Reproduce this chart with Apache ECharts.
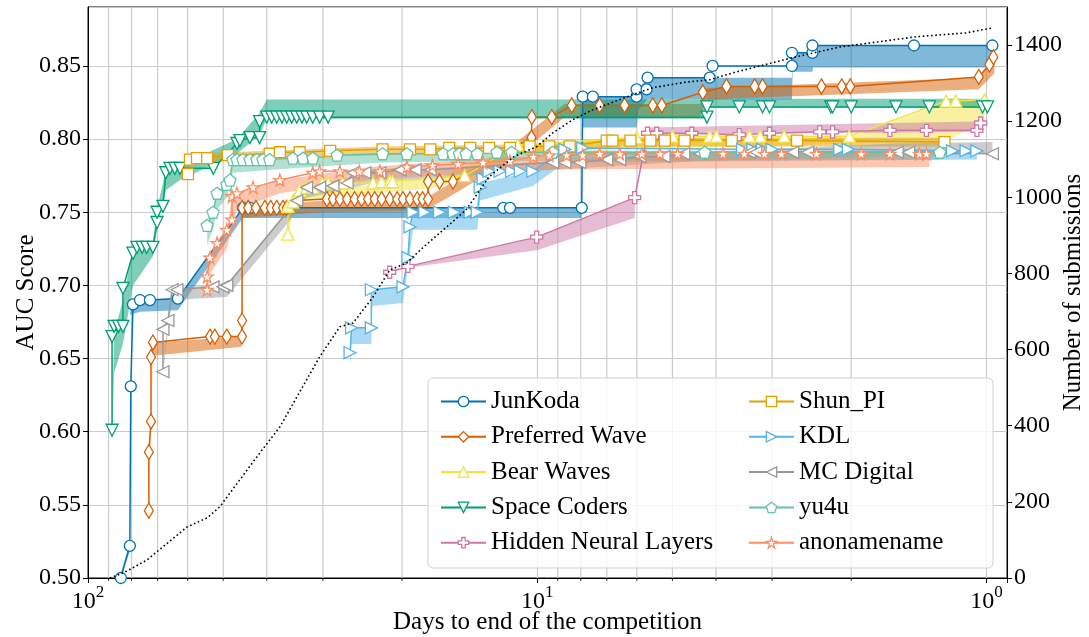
<!DOCTYPE html>
<html>
<head>
<meta charset="utf-8">
<script src="https://cdn.jsdelivr.net/npm/echarts@6/dist/echarts.min.js"></script>
<style>
html, body { margin: 0; padding: 0; background: #fff; }
#chart { width: 1089px; height: 637px; }
</style>
</head>
<body>
<div id="chart"></div>
<script>
// best score so far, per team (days to end, AUC)
const junKodaDays = [84.5, 80.7, 80.3, 79.4, 76.6, 72.8, 63.1, 45.2, 43.6, 11.9, 11.5, 7.96, 7.92, 7.52, 6.01, 6.01, 5.71, 5.68, 4.13, 4.07, 2.71, 2.71, 2.44, 2.44, 1.45, 0.97];
const junKodaAuc = [0.500, 0.522, 0.631, 0.687, 0.690, 0.690, 0.691, 0.753, 0.753, 0.753, 0.753, 0.753, 0.829, 0.829, 0.829, 0.834, 0.834, 0.842, 0.842, 0.850, 0.850, 0.859, 0.859, 0.864, 0.864, 0.864];
const junBandDays = [85.2, 80.7, 80.5, 76.6, 63.1, 45.2, 7.96, 7.92, 6.01, 5.95, 5.68, 2.71, 2.70, 2.44, 2.43, 0.97];
const junBandLo = [0.500, 0.518, 0.680, 0.682, 0.683, 0.746, 0.746, 0.808, 0.808, 0.820, 0.827, 0.827, 0.846, 0.846, 0.849, 0.849];
const junBandHi = [0.500, 0.524, 0.690, 0.690, 0.691, 0.753, 0.753, 0.829, 0.829, 0.834, 0.842, 0.842, 0.859, 0.859, 0.864, 0.864];

const pwDays = [73.2, 73.2, 72.4, 72.4, 71.7, 53.5, 52.2, 49.1, 45.4, 45.4, 45.4, 44.0, 42.3, 40.4, 39.2, 38.0, 36.8, 36.1, 34.5, 29.4, 28.5, 27.5, 26.5, 25.5, 24.6, 23.8, 23.0, 22.2, 21.3, 20.5, 19.9, 19.2, 18.5, 18.0, 17.5, 17.5, 16.5, 15.4, 10.3, 10.28, 9.28, 8.38, 7.26, 6.39, 5.53, 5.28, 4.28, 3.79, 3.28, 3.15, 2.33, 2.10, 2.01, 1.04, 0.985, 0.965];
const pwAuc = [0.546, 0.586, 0.607, 0.651, 0.661, 0.665, 0.665, 0.665, 0.665, 0.676, 0.753, 0.753, 0.753, 0.753, 0.753, 0.753, 0.753, 0.753, 0.758, 0.759, 0.759, 0.759, 0.759, 0.759, 0.759, 0.759, 0.759, 0.759, 0.759, 0.759, 0.759, 0.759, 0.759, 0.759, 0.759, 0.771, 0.771, 0.771, 0.801, 0.815, 0.815, 0.823, 0.823, 0.823, 0.823, 0.823, 0.832, 0.836, 0.836, 0.836, 0.836, 0.836, 0.836, 0.8425, 0.851, 0.856];
const pwBandDays = [73.2, 71.7, 45.5, 45.3, 30.0, 17.8, 15.4, 10.9, 8.7, 4.34, 4.2, 1.04, 0.96];
const pwBandLo = [0.545, 0.652, 0.658, 0.746, 0.750, 0.751, 0.762, 0.790, 0.815, 0.815, 0.827, 0.834, 0.845];
const pwBandHi = [0.547, 0.661, 0.665, 0.753, 0.758, 0.759, 0.771, 0.800, 0.824, 0.824, 0.835, 0.842, 0.857];

const bwDays = [35.9, 35.9, 35.0, 33.8, 32.6, 31.6, 30.1, 29.2, 27.1, 23.2, 22.2, 21.3, 21.0, 14.5, 11.05, 6.01, 5.0, 4.13, 3.99, 3.37, 3.19, 2.82, 2.02, 1.23, 1.17, 1.01];
const bwAuc = [0.735, 0.754, 0.757, 0.765, 0.767, 0.767, 0.770, 0.770, 0.770, 0.770, 0.771, 0.771, 0.771, 0.775, 0.796, 0.801, 0.802, 0.802, 0.802, 0.802, 0.802, 0.802, 0.802, 0.826, 0.826, 0.827];
const bwBandDays = [35.9, 35.0, 21.3, 16.5, 11.05, 6.01, 1.99, 1.23, 1.01];
const bwBandLo = [0.728, 0.757, 0.764, 0.767, 0.789, 0.793, 0.797, 0.799, 0.812];
const bwBandHi = [0.754, 0.763, 0.770, 0.774, 0.796, 0.801, 0.802, 0.825, 0.827];

const scDays = [88.4, 88.4, 87.5, 85.5, 83.6, 83.6, 79.4, 77.8, 75.8, 74.0, 71.7, 70.2, 70.2, 68.1, 67.1, 65.7, 64.1, 62.4, 52.6, 46.6, 45.9, 43.6, 41.5, 41.5, 40.0, 39.0, 38.0, 37.0, 36.1, 35.2, 34.3, 33.4, 32.6, 31.6, 30.5, 29.2, 4.19, 4.19, 3.55, 3.15, 3.04, 2.22, 2.20, 2.00, 1.59, 1.34, 1.02, 0.995];
const scAuc = [0.601, 0.665, 0.672, 0.672, 0.672, 0.698, 0.722, 0.726, 0.726, 0.726, 0.726, 0.743, 0.750, 0.754, 0.777, 0.780, 0.780, 0.780, 0.780, 0.797, 0.799, 0.801, 0.801, 0.812, 0.815, 0.815, 0.815, 0.815, 0.815, 0.815, 0.815, 0.815, 0.815, 0.815, 0.815, 0.815, 0.815, 0.822, 0.822, 0.822, 0.822, 0.822, 0.822, 0.822, 0.822, 0.822, 0.822, 0.822];
const scBandDays = [88.4, 87.5, 83.6, 79.4, 71.7, 70.2, 67.1, 62.4, 46.6, 41.5, 40.0, 4.19, 4.18, 0.99];
const scBandLo = [0.600, 0.640, 0.660, 0.700, 0.720, 0.738, 0.765, 0.772, 0.790, 0.803, 0.814, 0.814, 0.8215, 0.8215];
const scBandHi = [0.601, 0.667, 0.690, 0.725, 0.730, 0.752, 0.779, 0.782, 0.800, 0.818, 0.827, 0.827, 0.8275, 0.8275];

const hnlDays = [21.3, 19.4, 10.03, 6.07, 5.68, 5.42, 4.53, 3.55, 3.04, 2.35, 2.20, 1.64, 1.36, 1.05, 1.03];
const hnlAuc = [0.709, 0.713, 0.733, 0.760, 0.804, 0.804, 0.804, 0.803, 0.804, 0.805, 0.805, 0.806, 0.806, 0.806, 0.811];
const hnlBandDays = [21.3, 19.4, 10.03, 6.07, 6.06, 5.68, 1.05, 1.03];
const hnlBandLo = [0.709, 0.712, 0.724, 0.746, 0.758, 0.803, 0.805, 0.806];
const hnlBandHi = [0.709, 0.713, 0.733, 0.760, 0.760, 0.808, 0.812, 0.812];

const shunDays = [59.9, 59.3, 57.2, 54.3, 48.8, 39.4, 37.4, 33.8, 28.9, 22.1, 19.2, 17.3, 15.7, 14.1, 12.8, 11.5, 10.4, 9.4, 8.47, 7.0, 6.8, 6.2, 5.6, 5.2, 4.7, 3.69, 2.64, 1.24];
const shunAuc = [0.776, 0.786, 0.787, 0.787, 0.789, 0.790, 0.791, 0.791, 0.792, 0.793, 0.793, 0.793, 0.794, 0.794, 0.794, 0.794, 0.795, 0.795, 0.795, 0.799, 0.799, 0.799, 0.799, 0.799, 0.799, 0.799, 0.799, 0.798];
const shunBandDays = [59.9, 59.3, 49.1, 22.1, 8.47, 7.0, 1.24];
const shunBandLo = [0.772, 0.782, 0.786, 0.789, 0.791, 0.795, 0.795];
const shunBandHi = [0.777, 0.789, 0.791, 0.795, 0.797, 0.801, 0.801];

const kdlDays = [26.1, 25.9, 23.4, 23.4, 19.9, 19.4, 19.2, 18.9, 17.8, 16.5, 15.3, 14.1, 13.6, 13.4, 13.2, 12.8, 12.1, 11.4, 10.9, 10.23, 8.68, 7.92, 3.49, 3.31, 3.15, 3.0, 2.12, 2.03, 1.19, 1.11, 1.05];
const kdlAuc = [0.654, 0.671, 0.671, 0.697, 0.699, 0.719, 0.740, 0.750, 0.750, 0.750, 0.750, 0.750, 0.750, 0.767, 0.773, 0.778, 0.778, 0.778, 0.778, 0.778, 0.793, 0.794, 0.793, 0.793, 0.793, 0.793, 0.793, 0.793, 0.792, 0.792, 0.792];
const kdlBandDays = [26.1, 25.9, 23.4, 23.3, 19.9, 18.9, 13.6, 13.4, 10.23, 8.68, 1.05];
const kdlBandLo = [0.645, 0.660, 0.660, 0.686, 0.688, 0.738, 0.738, 0.758, 0.768, 0.784, 0.786];
const kdlBandHi = [0.654, 0.671, 0.671, 0.697, 0.699, 0.750, 0.750, 0.770, 0.778, 0.792, 0.792];

const mcDays = [68.1, 68.1, 66.4, 65.0, 63.4, 52.7, 50.1, 49.1, 34.3, 32.6, 30.5, 28.5, 26.5, 25.7, 24.2, 22.4, 20.2, 18.7, 17.3, 9.24, 8.68, 8.04, 7.0, 6.55, 5.91, 5.22, 4.72, 4.34, 3.37, 3.26, 2.70, 2.50, 1.58, 1.49, 0.97];
const mcAuc = [0.641, 0.670, 0.676, 0.697, 0.697, 0.699, 0.699, 0.700, 0.758, 0.767, 0.767, 0.768, 0.770, 0.777, 0.777, 0.777, 0.779, 0.779, 0.779, 0.784, 0.784, 0.784, 0.786, 0.786, 0.788, 0.788, 0.790, 0.790, 0.791, 0.791, 0.791, 0.791, 0.791, 0.791, 0.790];
const mcBandDays = [68.1, 66.4, 65.0, 49.1, 34.3, 32.6, 22.4, 9.24, 4.35, 1.6, 0.97];
const mcBandLo = [0.638, 0.668, 0.690, 0.692, 0.750, 0.760, 0.771, 0.779, 0.785, 0.788, 0.790];
const mcBandHi = [0.642, 0.676, 0.698, 0.701, 0.759, 0.768, 0.778, 0.785, 0.791, 0.797, 0.798];

const yu4uDays = [54.3, 52.7, 51.6, 49.1, 48.3, 47.6, 46.6, 45.2, 43.6, 42.1, 40.8, 39.4, 35.0, 33.2, 31.6, 27.9, 22.1, 19.5, 16.2, 15.4, 14.9, 14.4, 13.6, 12.3, 11.4, 9.24, 4.24, 1.27];
const yu4uAuc = [0.741, 0.750, 0.763, 0.769, 0.772, 0.786, 0.786, 0.786, 0.786, 0.786, 0.786, 0.786, 0.787, 0.787, 0.787, 0.789, 0.790, 0.790, 0.790, 0.790, 0.790, 0.790, 0.790, 0.791, 0.791, 0.791, 0.791, 0.791];
const yu4uBandDays = [54.3, 52.7, 51.6, 49.1, 47.6, 35.0, 22.1, 11.4, 1.27];
const yu4uBandLo = [0.728, 0.738, 0.752, 0.760, 0.777, 0.780, 0.784, 0.785, 0.786];
const yu4uBandHi = [0.741, 0.750, 0.763, 0.769, 0.786, 0.787, 0.790, 0.791, 0.791];

const anonDays = [54.3, 54.3, 53.5, 51.6, 49.1, 47.8, 47.8, 46.6, 42.9, 37.4, 31.6, 30.5, 27.5, 24.9, 22.4, 19.5, 17.1, 15.0, 13.2, 11.5, 10.2, 9.4, 8.6, 7.92, 7.26, 6.55, 5.85, 5.33, 4.87, 3.86, 3.46, 3.12, 2.86, 2.39, 1.90, 1.64, 1.41, 1.36];
const anonAuc = [0.697, 0.706, 0.719, 0.729, 0.738, 0.745, 0.761, 0.763, 0.767, 0.772, 0.777, 0.778, 0.778, 0.778, 0.778, 0.781, 0.782, 0.783, 0.784, 0.785, 0.788, 0.789, 0.789, 0.789, 0.790, 0.790, 0.790, 0.790, 0.790, 0.790, 0.790, 0.790, 0.790, 0.790, 0.790, 0.790, 0.790, 0.790];
const anonBandDays = [54.3, 53.5, 49.1, 47.8, 46.6, 37.4, 23.6, 11.1, 1.34];
const anonBandLo = [0.690, 0.708, 0.725, 0.740, 0.752, 0.763, 0.772, 0.779, 0.781];
const anonBandHi = [0.697, 0.719, 0.738, 0.760, 0.763, 0.772, 0.781, 0.788, 0.788];

// total submissions (right axis)
const subDays = [89.4, 83.6, 74.0, 60.2, 54.3, 50.9, 42.1, 37.4, 30.5, 27.5, 25.7, 23.2, 21.3, 19.5, 18.0, 14.4, 12.8, 11.3, 10.03, 9.24, 8.33, 7.52, 6.32, 5.53, 4.65, 4.13, 3.67, 2.70, 2.12, 1.43, 1.11, 0.97];
const subCount = [0, 13, 47, 134, 158, 187, 318, 397, 581, 660, 670, 738, 809, 828, 867, 967, 1054, 1106, 1133, 1169, 1204, 1230, 1264, 1288, 1303, 1309, 1327, 1367, 1395, 1422, 1432, 1445];

// minor grid lines of the log axis
const minorDays = [2, 3, 4, 5, 6, 7, 8, 9, 20, 30, 40, 50, 60, 70, 80, 90];

const FONT = 'Liberation Serif';
const aucMin = 0.5, aucMax = 0.8903;

const teams = [
    {name: 'JunKoda', color: '#0072B2', days: junKodaDays, auc: junKodaAuc, bDays: junBandDays, bLo: junBandLo, bHi: junBandHi, symbol: 'circle', size: 11, rotate: 0},
    {name: 'Preferred Wave', color: '#D55E00', days: pwDays, auc: pwAuc, bDays: pwBandDays, bLo: pwBandLo, bHi: pwBandHi, symbol: 'diamond', size: [9, 15], rotate: 0},
    {name: 'Bear Waves', color: '#F0E442', days: bwDays, auc: bwAuc, bDays: bwBandDays, bLo: bwBandLo, bHi: bwBandHi, symbol: 'triangle', size: 12, rotate: 0},
    {name: 'Space Coders', color: '#009E73', days: scDays, auc: scAuc, bDays: scBandDays, bLo: scBandLo, bHi: scBandHi, symbol: 'triangle', size: 12, rotate: 180},
    {name: 'Hidden Neural Layers', color: '#CC79A7', days: hnlDays, auc: hnlAuc, bDays: hnlBandDays, bLo: hnlBandLo, bHi: hnlBandHi, symbol: 'path://M-1,-3L1,-3L1,-1L3,-1L3,1L1,1L1,3L-1,3L-1,1L-3,1L-3,-1L-1,-1Z', size: 12, rotate: 0},
    {name: 'Shun_PI', color: '#E69F00', days: shunDays, auc: shunAuc, bDays: shunBandDays, bLo: shunBandLo, bHi: shunBandHi, symbol: 'rect', size: 11, rotate: 0},
    {name: 'KDL', color: '#56B4E9', days: kdlDays, auc: kdlAuc, bDays: kdlBandDays, bLo: kdlBandLo, bHi: kdlBandHi, symbol: 'triangle', size: 12, rotate: -90},
    {name: 'MC Digital', color: '#999999', days: mcDays, auc: mcAuc, bDays: mcBandDays, bLo: mcBandLo, bHi: mcBandHi, symbol: 'triangle', size: 12, rotate: 90},
    {name: 'yu4u', color: '#66C2A5', days: yu4uDays, auc: yu4uAuc, bDays: yu4uBandDays, bLo: yu4uBandLo, bHi: yu4uBandHi, symbol: 'path://M0,-1L0.951,-0.309L0.588,0.809L-0.588,0.809L-0.951,-0.309Z', size: 12, rotate: 0},
    {name: 'anonamename', color: '#FC8D62', days: anonDays, auc: anonAuc, bDays: anonBandDays, bLo: anonBandLo, bHi: anonBandHi, symbol: 'path://M0,-1L0.2245,-0.309L0.951,-0.309L0.363,0.118L0.588,0.809L0,0.382L-0.588,0.809L-0.363,0.118L-0.951,-0.309L-0.2245,-0.309Z', size: 12, rotate: 0}
];

let series = [];
//队伍折线
teams.forEach(function (t) {
    series.push({
        type: 'line',
        name: t.name,
        z: 3,
        data: t.days.map((d, i) => [d, t.auc[i]]),
        symbol: t.symbol,
        symbolSize: t.size,
        symbolRotate: t.rotate,
        lineStyle: {color: t.color, width: 1.5},
        itemStyle: {color: '#fff', borderColor: t.color, borderWidth: 1.3},
        emphasis: {disabled: true},
        clip: true
    });
});
//阴影区域
teams.forEach(function (t) {
    series.push({
        type: 'custom',
        name: t.name + ' band',
        z: 2,
        silent: true,
        clip: true,
        data: t.bDays.map((d, i) => [d, t.bLo[i], t.bHi[i]]),
        encode: {x: 0, y: [1, 2]},
        renderItem: function (params, api) {
            if (params.dataIndex !== 0) return null;
            const upper = t.bDays.map((d, i) => api.coord([d, t.bHi[i]]));
            const lower = t.bDays.map((d, i) => api.coord([d, t.bLo[i]])).reverse();
            return {
                type: 'polygon',
                shape: {points: upper.concat(lower)},
                style: {fill: t.color, opacity: 0.5}
            };
        }
    });
});
//次网格线
series.push({
    type: 'custom',
    name: 'minor grid',
    z: 1,
    silent: true,
    data: minorDays.map(d => [d, aucMin]),
    encode: {x: 0, y: 1},
    renderItem: function (params, api) {
        const d = api.value(0);
        const top = api.coord([d, aucMax]);
        const bot = api.coord([d, aucMin]);
        return {
            type: 'group',
            children: [
                {type: 'line', shape: {x1: top[0], y1: top[1], x2: bot[0], y2: bot[1]}, style: {stroke: '#cbcbcb', lineWidth: 1.2}},
                {type: 'line', shape: {x1: bot[0], y1: bot[1], x2: bot[0], y2: bot[1] + 3}, style: {stroke: '#000', lineWidth: 0.8}}
            ]
        };
    }
});
//提交数量
series.push({
    type: 'line',
    name: 'submissions',
    yAxisIndex: 1,
    z: 5,
    symbol: 'none',
    data: subDays.map((d, i) => [d, subCount[i]]),
    lineStyle: {color: '#000', width: 1.6, type: [1.6, 2.6]},
    emphasis: {disabled: true}
});

const textBase = {fontFamily: FONT, color: '#000'};
const legendBase = {
    orient: 'vertical',
    top: 389,
    itemWidth: 45,
    itemHeight: 13,
    itemGap: 10.3,
    padding: 0,
    selectedMode: false,
    itemStyle: {borderWidth: 1.3},
    textStyle: Object.assign({fontSize: 25, lineHeight: 25}, textBase)
};

let chart = echarts.init(document.getElementById('chart'));
chart.setOption({
    animation: false,
    backgroundColor: '#fff',
    grid: {
        left: 88, right: 82, top: 7, bottom: 59,
        show: true, borderColor: '#000', borderWidth: 1,
        outerBoundsMode: 'none'
    },
    xAxis: {
        type: 'log',
        logBase: 10,
        min: 0.9,
        max: 100,
        inverse: true,
        name: 'Days to end of the competition',
        nameLocation: 'middle',
        nameGap: 32,
        nameMoveOverlap: false,
        nameTextStyle: Object.assign({fontSize: 25}, textBase),
        axisLine: {lineStyle: {color: '#000', width: 1}},
        axisTick: {inside: false, length: 5, lineStyle: {color: '#000'}},
        splitLine: {show: true, lineStyle: {color: '#cbcbcb', width: 1.2}},
        axisLabel: {
            margin: 6,
            formatter: function (v) {
                const e = Math.log10(v);
                if (Math.abs(e - Math.round(e)) > 1e-6) return '';
                return '{b|10}{s|' + Math.round(e) + '}';
            },
            rich: {
                b: Object.assign({fontSize: 24, lineHeight: 30, verticalAlign: 'bottom'}, textBase),
                s: Object.assign({fontSize: 17, lineHeight: 12, verticalAlign: 'top'}, textBase)
            }
        }
    },
    yAxis: [{
        type: 'value',
        min: aucMin,
        max: aucMax,
        interval: 0.05,
        name: 'AUC Score',
        nameLocation: 'middle',
        nameGap: 49,
        nameMoveOverlap: false,
        nameTextStyle: Object.assign({fontSize: 25}, textBase),
        axisLine: {show: true, lineStyle: {color: '#000', width: 1}},
        axisTick: {show: true, inside: false, length: 5, lineStyle: {color: '#000'}},
        splitLine: {show: true, lineStyle: {color: '#cbcbcb', width: 1.2}},
        axisLabel: Object.assign({
            fontSize: 24, margin: 7, showMaxLabel: false,
            formatter: v => v.toFixed(2)
        }, textBase)
    }, {
        type: 'value',
        position: 'right',
        min: 0,
        max: 1500,
        interval: 200,
        name: 'Number of submissions',
        nameLocation: 'middle',
        nameRotate: 90,
        nameGap: 54,
        nameMoveOverlap: false,
        nameTextStyle: Object.assign({fontSize: 25}, textBase),
        axisLine: {show: true, lineStyle: {color: '#000', width: 1}},
        axisTick: {show: true, inside: false, length: 5, lineStyle: {color: '#000'}},
        splitLine: {show: false},
        axisLabel: Object.assign({
            fontSize: 24, margin: 7, showMaxLabel: false,
            formatter: v => String(v)
        }, textBase)
    }],
    graphic: [{
        type: 'rect',
        z: 10,
        silent: true,
        shape: {x: 428, y: 378, width: 565, height: 190, r: 5},
        style: {fill: 'rgba(255,255,255,0.8)', stroke: '#d0d0d0', lineWidth: 1}
    }],
    legend: [
        Object.assign({left: 440, z: 20, data: teams.slice(0, 5).map(t => t.name)}, legendBase),
        Object.assign({left: 748, z: 20, data: teams.slice(5).map(t => t.name)}, legendBase)
    ],
    series: series
});
</script>
</body>
</html>
